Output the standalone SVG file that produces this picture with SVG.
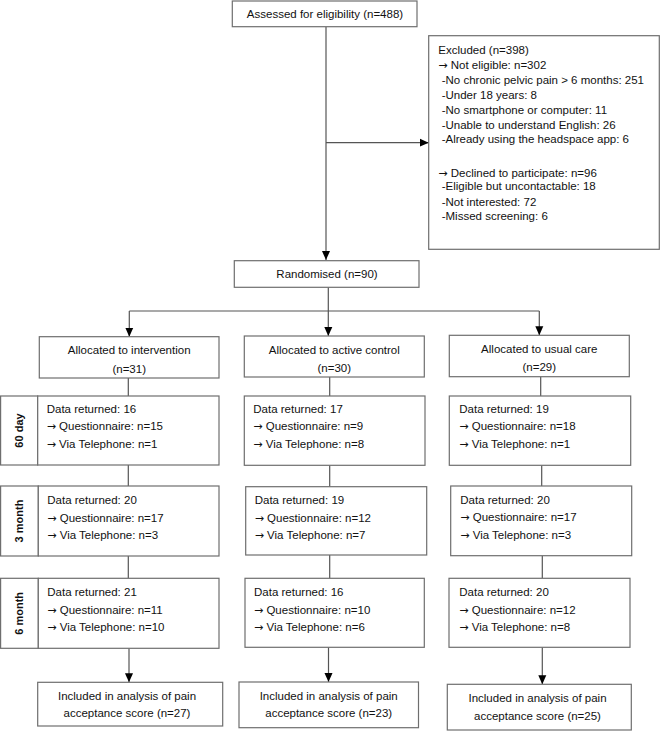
<svg xmlns="http://www.w3.org/2000/svg" width="661" height="732" viewBox="0 0 661 732">
<style>
rect.b{fill:#fff;stroke:#6e6e6e;stroke-width:1.2}
.c line{stroke:#555;stroke-width:1.2;fill:none}
text{font-family:"Liberation Sans",Arial,sans-serif;font-size:11.5px;fill:#111}
tspan.a{font-family:"DejaVu Sans",sans-serif;font-size:11px}
.m{text-anchor:middle}
.r{font-weight:bold;font-size:11px;text-anchor:middle}
</style>
<defs>
<marker id="ah" markerUnits="userSpaceOnUse" markerWidth="9" markerHeight="9" viewBox="0 0 9 9" refX="9" refY="4.5" orient="auto">
<path d="M0,0.5 L9,4.5 L0,8.5 Z" fill="#000"/>
</marker>
</defs>
<rect width="661" height="732" fill="#fff"/>

<g class="c" id="connectors">
<line x1="326" y1="27" x2="326" y2="260" marker-end="url(#ah)"/>
<line x1="326" y1="142.7" x2="428.7" y2="142.7" marker-end="url(#ah)"/>
<line x1="328.3" y1="287.3" x2="328.3" y2="311"/>
<line x1="129.3" y1="311" x2="539.3" y2="311"/>
<line x1="129.3" y1="311" x2="129.3" y2="336.7" marker-end="url(#ah)"/>
<line x1="328.3" y1="311" x2="328.3" y2="336" marker-end="url(#ah)"/>
<line x1="539.3" y1="311" x2="539.3" y2="335.3" marker-end="url(#ah)"/>
<line x1="128.3" y1="378" x2="128.3" y2="396"/>
<line x1="128.3" y1="465" x2="128.3" y2="486"/>
<line x1="128.3" y1="556" x2="128.3" y2="578.3"/>
<line x1="129" y1="648.3" x2="129" y2="682.3" marker-end="url(#ah)"/>
<line x1="329.7" y1="377" x2="329.7" y2="396"/>
<line x1="329.7" y1="465.3" x2="329.7" y2="486.7"/>
<line x1="329.7" y1="555" x2="329.7" y2="578.3"/>
<line x1="328.5" y1="647.3" x2="328.5" y2="682" marker-end="url(#ah)"/>
<line x1="540.7" y1="376.7" x2="540.7" y2="396"/>
<line x1="541.7" y1="465.3" x2="541.7" y2="486"/>
<line x1="542.3" y1="555.7" x2="542.3" y2="578.3"/>
<line x1="542.3" y1="647.3" x2="542.3" y2="684.3" marker-end="url(#ah)"/>
</g>

<g id="assessed">
<rect class="b" x="232.3" y="1" width="184.7" height="25.7"/>
<text class="m" x="325" y="18">Assessed for eligibility (n=488)</text>
</g>

<g id="excluded">
<rect class="b" x="428.7" y="35.7" width="230.6" height="213.6"/>
<text x="438.3" y="54">Excluded (n=398)</text>
<text x="438.3" y="69"><tspan class="a">→</tspan> Not eligible: n=302</text>
<text x="441.7" y="84">-No chronic pelvic pain &gt; 6 months: 251</text>
<text x="441.7" y="99">-Under 18 years: 8</text>
<text x="441.7" y="113.5">-No smartphone or computer: 11</text>
<text x="441.7" y="128.5">-Unable to understand English: 26</text>
<text x="441.7" y="143.3">-Already using the headspace app: 6</text>
<text x="438.3" y="176.7"><tspan class="a">→</tspan> Declined to participate: n=96</text>
<text x="441.7" y="190">-Eligible but uncontactable: 18</text>
<text x="441.7" y="205.7">-Not interested: 72</text>
<text x="441.7" y="220">-Missed screening: 6</text>
</g>

<g id="randomised">
<rect class="b" x="234.3" y="260.7" width="184.7" height="26.6"/>
<text class="m" x="327" y="278">Randomised (n=90)</text>
</g>

<g id="alloc-intervention">
<rect class="b" x="39.3" y="336.7" width="179.7" height="41.3"/>
<text class="m" x="129.2" y="354">Allocated to intervention</text>
<text class="m" x="129.2" y="372.5">(n=31)</text>
</g>
<g id="alloc-active">
<rect class="b" x="244.3" y="336" width="180" height="41"/>
<text class="m" x="334.3" y="353.5">Allocated to active control</text>
<text class="m" x="334.3" y="372">(n=30)</text>
</g>
<g id="alloc-usual">
<rect class="b" x="449.3" y="335.3" width="180" height="41.4"/>
<text class="m" x="539.3" y="352.7">Allocated to usual care</text>
<text class="m" x="539.3" y="370.7">(n=29)</text>
</g>

<g id="label-60day">
<rect class="b" x="0.6" y="396" width="37.1" height="69"/>
<text class="r" transform="translate(23,430.5) rotate(-90)">60 day</text>
</g>
<g id="int-60day">
<rect class="b" x="37.7" y="396" width="181.3" height="69"/>
<text x="46.7" y="412.5">Data returned: 16</text>
<text x="46.7" y="430"><tspan class="a">→</tspan> Questionnaire: n=15</text>
<text x="46.7" y="447.5"><tspan class="a">→</tspan> Via Telephone: n=1</text>
</g>
<g id="act-60day">
<rect class="b" x="244.3" y="396" width="180.7" height="69.3"/>
<text x="253.3" y="412.5">Data returned: 17</text>
<text x="253.3" y="430"><tspan class="a">→</tspan> Questionnaire: n=9</text>
<text x="253.3" y="447.5"><tspan class="a">→</tspan> Via Telephone: n=8</text>
</g>
<g id="usu-60day">
<rect class="b" x="449.3" y="396" width="181.4" height="69.3"/>
<text x="459.3" y="412.5">Data returned: 19</text>
<text x="459.3" y="430"><tspan class="a">→</tspan> Questionnaire: n=18</text>
<text x="459.3" y="447.5"><tspan class="a">→</tspan> Via Telephone: n=1</text>
</g>

<g id="label-3month">
<rect class="b" x="0.6" y="486" width="37.7" height="70"/>
<text class="r" transform="translate(23,521) rotate(-90)">3 month</text>
</g>
<g id="int-3month">
<rect class="b" x="38.3" y="486" width="180.7" height="70"/>
<text x="47.3" y="504">Data returned: 20</text>
<text x="47.3" y="521.5"><tspan class="a">→</tspan> Questionnaire: n=17</text>
<text x="47.3" y="539"><tspan class="a">→</tspan> Via Telephone: n=3</text>
</g>
<g id="act-3month">
<rect class="b" x="245.7" y="486.7" width="181" height="68.3"/>
<text x="254.7" y="504">Data returned: 19</text>
<text x="254.7" y="521.5"><tspan class="a">→</tspan> Questionnaire: n=12</text>
<text x="254.7" y="539"><tspan class="a">→</tspan> Via Telephone: n=7</text>
</g>
<g id="usu-3month">
<rect class="b" x="450.7" y="486" width="181" height="69.7"/>
<text x="460.3" y="503.5">Data returned: 20</text>
<text x="460.3" y="521"><tspan class="a">→</tspan> Questionnaire: n=17</text>
<text x="460.3" y="538.5"><tspan class="a">→</tspan> Via Telephone: n=3</text>
</g>

<g id="label-6month">
<rect class="b" x="0.6" y="578.3" width="37.7" height="70"/>
<text class="r" transform="translate(23,613.3) rotate(-90)">6 month</text>
</g>
<g id="int-6month">
<rect class="b" x="38.3" y="578.3" width="180.7" height="70"/>
<text x="47.3" y="596">Data returned: 21</text>
<text x="47.3" y="613.5"><tspan class="a">→</tspan> Questionnaire: n=11</text>
<text x="47.3" y="631"><tspan class="a">→</tspan> Via Telephone: n=10</text>
</g>
<g id="act-6month">
<rect class="b" x="245" y="578.3" width="179.3" height="69"/>
<text x="254" y="596">Data returned: 16</text>
<text x="254" y="613.5"><tspan class="a">→</tspan> Questionnaire: n=10</text>
<text x="254" y="631"><tspan class="a">→</tspan> Via Telephone: n=6</text>
</g>
<g id="usu-6month">
<rect class="b" x="449" y="578.3" width="181" height="69"/>
<text x="459.3" y="596">Data returned: 20</text>
<text x="459.3" y="613.5"><tspan class="a">→</tspan> Questionnaire: n=12</text>
<text x="459.3" y="631"><tspan class="a">→</tspan> Via Telephone: n=8</text>
</g>

<g id="final-intervention">
<rect class="b" x="37.7" y="682.3" width="185" height="43.7"/>
<text class="m" x="127" y="700">Included in analysis of pain</text>
<text class="m" x="127" y="716.5">acceptance score (n=27)</text>
</g>
<g id="final-active">
<rect class="b" x="239" y="682" width="179.5" height="45.7"/>
<text class="m" x="328.7" y="700">Included in analysis of pain</text>
<text class="m" x="328.7" y="716.5">acceptance score (n=23)</text>
</g>
<g id="final-usual">
<rect class="b" x="447.3" y="684.3" width="184" height="45.7"/>
<text class="m" x="537.5" y="702">Included in analysis of pain</text>
<text class="m" x="537.5" y="720">acceptance score (n=25)</text>
</g>
</svg>
